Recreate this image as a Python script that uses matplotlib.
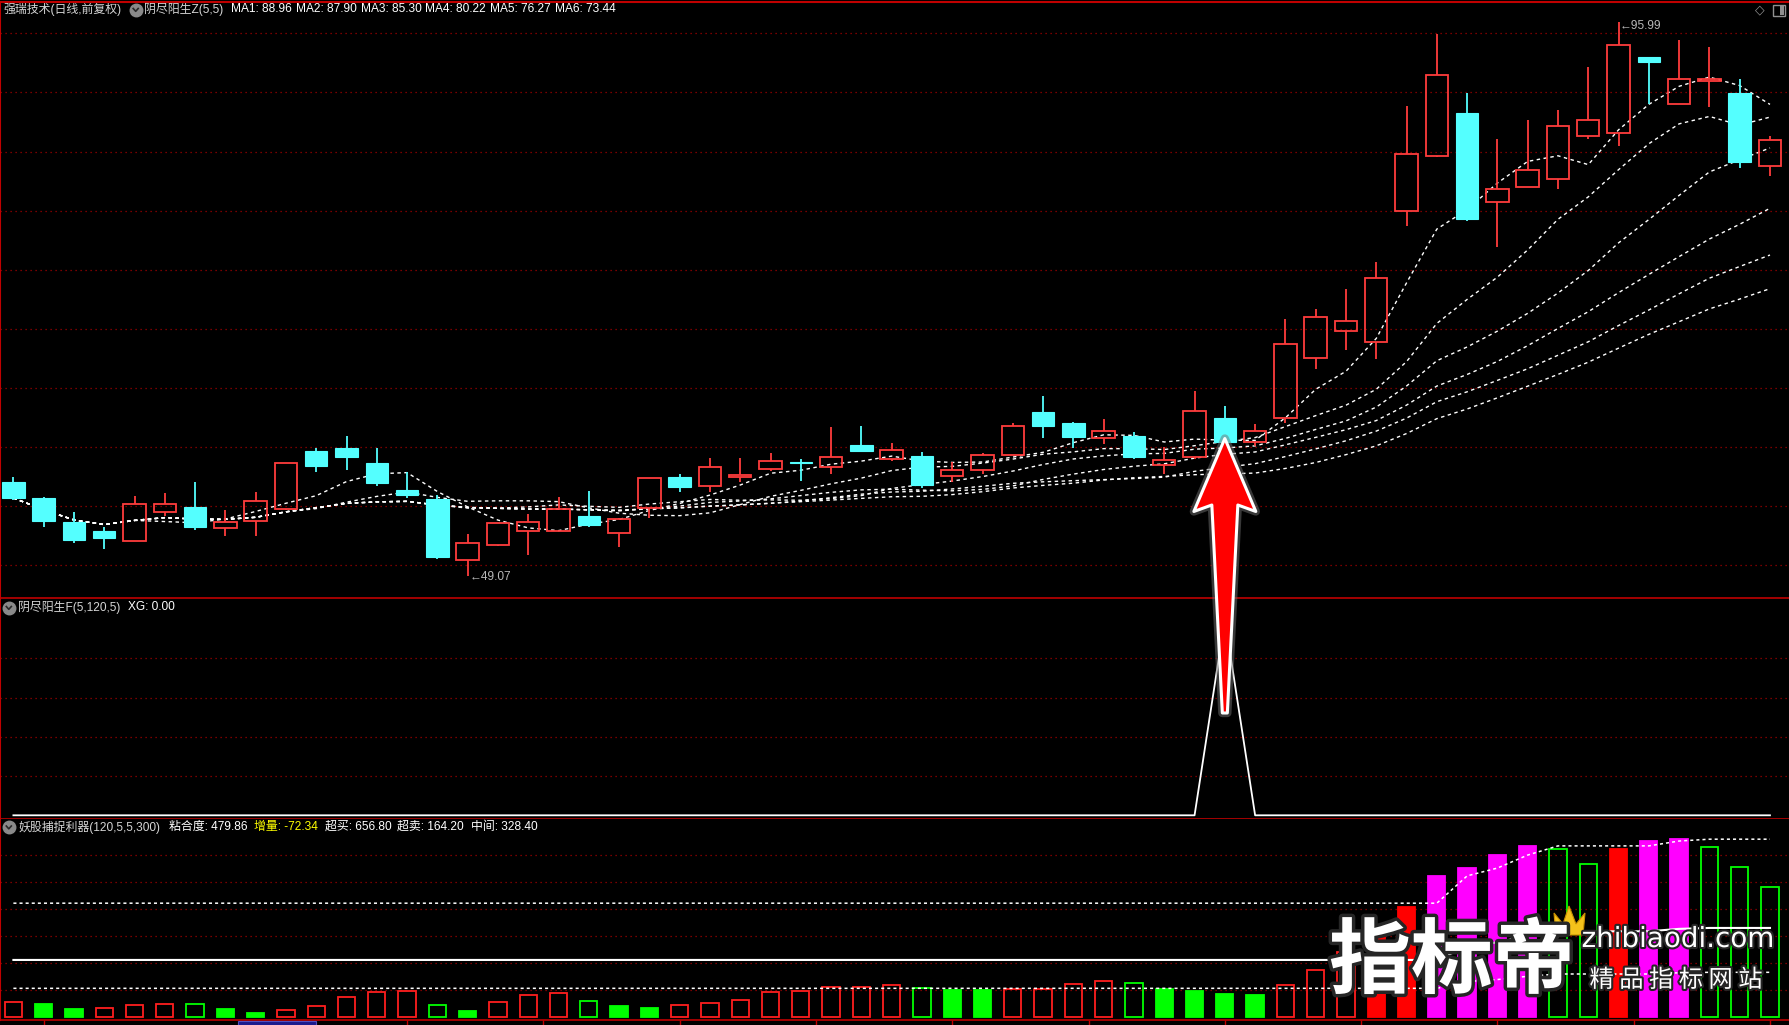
import numpy as np
import pandas as pd
import matplotlib
matplotlib.use("Agg")
import matplotlib.pyplot as plt
from matplotlib.patches import Polygon, Rectangle
from matplotlib.lines import Line2D
import matplotlib.patheffects as pe

W, H = 1789, 1025

# ---- daily candles ----
opens = [57.02, 55.66, 53.63, 52.86, 52.07, 54.50, 54.90, 53.15, 53.74, 54.76,
         59.65, 59.93, 58.63, 56.34, 55.64, 50.46, 51.73, 52.92, 52.92, 54.14,
         52.77, 54.84, 57.44, 56.74, 57.47, 58.15, 58.70, 58.35, 60.16, 59.03,
         59.23, 57.56, 58.07, 59.37, 62.96, 62.03, 60.78, 60.92, 58.52, 59.17,
         62.45, 60.44, 62.42, 67.51, 69.80, 68.92, 79.95, 84.65, 88.24, 80.72,
         81.99, 82.70, 86.35, 86.60, 92.99, 88.98, 90.93, 89.94, 83.80]
highs = [57.45, 55.75, 54.50, 53.20, 55.86, 56.09, 57.02, 54.65, 56.17, 58.69,
         59.88, 60.95, 59.93, 57.87, 55.98, 52.67, 53.60, 54.31, 55.75, 56.26,
         54.00, 57.42, 57.70, 59.06, 59.11, 59.48, 59.03, 61.69, 61.77, 60.33,
         59.57, 58.77, 59.48, 62.00, 64.32, 62.08, 62.37, 61.24, 59.99, 64.74,
         63.47, 61.97, 70.82, 71.70, 73.39, 75.68, 88.84, 94.97, 89.99, 86.04,
         87.65, 88.55, 92.12, 95.99, 92.99, 94.44, 93.84, 91.13, 86.29]
lows = [55.52, 53.20, 51.87, 51.42, 52.07, 54.17, 52.98, 52.47, 52.47, 54.70,
        57.90, 58.07, 56.74, 55.69, 50.52, 49.07, 51.59, 50.83, 52.92, 53.20,
        51.58, 53.99, 56.17, 56.20, 57.05, 57.95, 57.13, 57.73, 59.57, 58.80,
        56.54, 57.05, 57.70, 59.37, 60.75, 59.93, 60.27, 58.97, 57.73, 59.03,
        60.30, 60.07, 62.05, 66.63, 68.25, 67.48, 78.68, 84.54, 79.10, 76.90,
        81.99, 81.82, 86.07, 85.47, 88.98, 88.98, 88.78, 83.63, 82.92]
closes = [55.69, 53.71, 52.10, 52.27, 55.21, 55.21, 53.20, 53.68, 55.47, 58.69,
          58.41, 59.17, 56.97, 55.95, 50.69, 51.90, 53.60, 53.68, 54.79, 53.43,
          53.88, 57.42, 56.63, 58.35, 57.67, 58.86, 58.68, 59.20, 59.65, 59.79,
          56.77, 58.10, 59.37, 61.74, 61.80, 60.87, 61.40, 59.14, 58.94, 63.02,
          60.41, 61.32, 68.70, 70.99, 70.65, 74.30, 84.82, 91.44, 79.25, 81.85,
          83.46, 87.20, 87.70, 93.98, 92.60, 91.10, 91.10, 84.11, 86.01]
ma_periods = [5, 10, 15, 20, 25, 30]
ma_legend = [88.96, 87.90, 85.30, 80.22, 76.27, 73.44]

# ---- 阴尽阳生F signal ----
xg_signal = [0] * 40 + [1] + [0] * 18

# ---- 妖股捕捉利器 sticks ----
stick_values = [53, 47, 28, 31, 42, 46, 46, 28, 14, 24,
                38, 72, 90, 94, 42, 21, 53, 79, 87, 57,
                40, 32, 42, 50, 61, 90, 94, 109, 109, 116,
                105, 99, 97, 101, 103, 120, 131, 124, 102, 95,
                84, 80, 116, 173, 240, 330, 406, 521, 550, 598,
                632, 619, 564, 619, 650, 656.8, 627, 552.2, 479.86]
stick_kinds = ['rh', 'gf', 'gf', 'rh', 'rh', 'rh', 'gh', 'gf', 'gf', 'rh',
               'rh', 'rh', 'rh', 'rh', 'gh', 'gf', 'rh', 'rh', 'rh', 'gh',
               'gf', 'gf', 'rh', 'rh', 'rh', 'rh', 'rh', 'rh', 'rh', 'rh',
               'gh', 'gf', 'gf', 'rh', 'rh', 'rh', 'rh', 'gh', 'gf', 'gf',
               'gf', 'gf', 'rh', 'rh', 'rh', 'rf', 'rf', 'm', 'm', 'm',
               'm', 'gh', 'gh', 'rf', 'm', 'm', 'gh', 'gh', 'gh']
# 超买 level (flat from earlier history, then new highs)
overbought = [420.0] * 48 + [521, 550, 598, 632, 632, 632, 632, 650, 656.8, 656.8, 656.8]

RED = '#FF3C3C'
CYAN = '#54FFFF'
GRID = '#A00000'
EDGE = '#C00000'

plt.rcParams['font.family'] = ['Liberation Sans', 'Noto Sans CJK SC', 'DejaVu Sans']

n = len(closes)
x = np.arange(n)
o, h, l, c = map(np.array, (opens, highs, lows, closes))
mas = [pd.Series(closes).rolling(p, min_periods=1).mean().values for p in ma_periods]

fig = plt.figure(figsize=(W / 100, H / 100), dpi=100, facecolor='black')

x0, dx = 13.4, 30.286
xlim = (-x0 / dx, (W - x0) / dx)


def panel(top, bottom):
    a = fig.add_axes([0, 1 - bottom / H, 1, (bottom - top) / H], facecolor='black')
    a.set_xlim(*xlim)
    a.set_xticks([])
    a.set_yticks([])
    for s in a.spines.values():
        s.set_visible(False)
    a.spines['left'].set_visible(True)
    a.spines['left'].set_color(EDGE)
    a.spines['left'].set_linewidth(1.5)
    a.spines['bottom'].set_visible(True)
    a.spines['bottom'].set_color(EDGE)
    a.spines['bottom'].set_linewidth(1.2)
    return a


def ftext(px, py, s, **kw):
    kw.setdefault('fontsize', 8.6)
    kw.setdefault('va', 'center')
    kw.setdefault('ha', 'left')
    return fig.text(px / W, 1 - py / H, s, **kw)


def icon(px, py):
    fig.add_artist(Line2D([px / W], [1 - py / H], marker='o', markersize=9,
                          color='#8A8A8A', transform=fig.transFigure))
    fig.add_artist(Line2D([(px - 2.5) / W, px / W, (px + 2.5) / W],
                          [1 - (py - 1) / H, 1 - (py + 1.8) / H, 1 - (py - 1) / H],
                          color='#2A2A2A', lw=1.2, transform=fig.transFigure))


# ================= main price panel =================
ax1 = panel(2, 598)
ax1.spines['top'].set_visible(True)
ax1.spines['top'].set_color(EDGE)
ax1.spines['top'].set_linewidth(1.5)
px_per = 11.822
ax1.set_ylim(95 - (598 - 33.3) / px_per, 95 + (33.3 - 2) / px_per)
for g in range(50, 100, 5):
    ax1.axhline(g, color=GRID, lw=0.9, ls=(0, (1, 3)), zorder=1)

for ma in mas:
    ax1.plot(x, ma, color='white', lw=1.0, ls=(0, (2.5, 2.5)), zorder=2)

up = c >= o
bw = 0.74
body_lo = np.minimum(o, c)
body_hi = np.maximum(o, c)
body_h = np.maximum(body_hi - body_lo, 0.08)
ax1.bar(x[up], body_h[up], bottom=body_lo[up], width=bw, facecolor='none',
        edgecolor=RED, lw=1.3, zorder=3)
ax1.bar(x[~up], body_h[~up], bottom=body_lo[~up], width=bw, facecolor=CYAN,
        edgecolor=CYAN, lw=0.8, zorder=3)
cols = np.where(up, RED, CYAN)
ax1.vlines(x, body_hi, h, colors=cols, lw=1.3, zorder=3)
ax1.vlines(x, l, body_lo, colors=cols, lw=1.3, zorder=3)

i_hi = int(np.argmax(h))
i_lo = int(np.argmin(l))
ax1.text(i_hi + 0.05, h[i_hi] - 0.35, '\u2190%.2f' % h[i_hi], color='#B8B8B8',
         fontsize=8.6, va='center', ha='left', zorder=4)
ax1.text(i_lo + 0.05, l[i_lo] - 0.1, '\u2190%.2f' % l[i_lo], color='#B8B8B8',
         fontsize=8.6, va='center', ha='left', zorder=4)

# ================= 阴尽阳生F panel =================
ax2 = panel(599.3, 819.3)
ax2.set_ylim(-4 / 196.3, 216 / 196.3)
for g in (0.2, 0.4, 0.6, 0.8):
    ax2.axhline(g, color=GRID, lw=0.9, ls=(0, (1, 3)), zorder=1)
ax2.plot(x, xg_signal, color='white', lw=1.3, zorder=3)

# ================= 妖股捕捉利器 panel =================
ax3 = panel(819.3, 1020)
u = 3.70
ax3.set_ylim(-3.3 * u, (1016.7 - 819.3) * u)
for g in range(100, 700, 100):
    ax3.axhline(g, color=GRID, lw=0.9, ls=(0, (1, 3)), zorder=1)
kind_style = {
    'rh': dict(facecolor='none', edgecolor='#FF1E1E'),
    'rf': dict(facecolor='#FF0000', edgecolor='#FF0000'),
    'gh': dict(facecolor='none', edgecolor='#00FF00'),
    'gf': dict(facecolor='#00FF00', edgecolor='#00FF00'),
    'm': dict(facecolor='#FF00FF', edgecolor='#FF00FF'),
}
sv = np.array(stick_values, dtype=float)
kinds = np.array(stick_kinds)
for k, st in kind_style.items():
    m = kinds == k
    ax3.bar(x[m], sv[m], width=0.57, lw=1.3, zorder=2, **st)
ob = np.array(overbought)
ax3.plot(x, ob, color='white', lw=1.1, ls=(0, (2, 2)), zorder=4)
ax3.plot(x, ob / 2, color='white', lw=1.5, zorder=4)
ax3.plot(x, ob / 4, color='white', lw=1.1, ls=(0, (2, 2)), zorder=4)
ax3.set_xticks([1, 13, 17.5, 22, 26.5, 31, 35.5, 40, 44.5, 49, 53.5, 58])
ax3.set_xticklabels([])
ax3.tick_params(axis='x', colors=EDGE, length=4, width=1, direction='out')
fig.add_artist(Rectangle((238 / W, 0), 78 / W, 4 / H, facecolor='#1A1A8C',
                         edgecolor='#5050C0', lw=0.8, transform=fig.transFigure))

# ================= headers =================
ftext(3.6, 9.5, '强瑞技术(日线,前复权)', color='#D6D6D6')
icon(135.7, 9.5)
ftext(143.8, 9.5, '阴尽阳生Z(5,5)', color='#D6D6D6')
ma_x = [230.8, 295.5, 360.7, 425.4, 490.0, 555.0]
for k, (mx, mv) in enumerate(zip(ma_x, ma_legend)):
    ftext(mx, 9.5, 'MA%d: %.2f' % (k + 1, mv), color='white')
ftext(1760, 10, '\u25c7', color='#909090', fontsize=9, ha='center', family='DejaVu Sans')
fig.add_artist(Rectangle((1773 / W, 1 - 16 / H), 12 / W, 11 / H, facecolor='none',
                         edgecolor='#909090', lw=1.0, transform=fig.transFigure))
fig.add_artist(Rectangle((1780 / W, 1 - 15 / H), 4 / W, 9 / H, facecolor='#909090',
                         edgecolor='none', transform=fig.transFigure))

icon(8.8, 607.5)
ftext(18.3, 607.5, '阴尽阳生F(5,120,5)', color='#D6D6D6')
ftext(128.3, 607.5, 'XG: %.2f' % xg_signal[-1], color='white')

icon(8.8, 827)
ftext(18.7, 827, '妖股捕捉利器(120,5,5,300)', color='#D6D6D6')
ftext(168.7, 827, '粘合度: %.2f' % stick_values[-1], color='white')
ftext(254.5, 827, '增量: %.2f' % (stick_values[-1] - stick_values[-2]), color='#FFFF00')
ftext(324.6, 827, '超买: %.2f' % overbought[-1], color='white')
ftext(396.9, 827, '超卖: %.2f' % (overbought[-1] / 4), color='white')
ftext(471.0, 827, '中间: %.2f' % (overbought[-1] / 2), color='white')

# ================= signal arrow =================
fig.canvas.draw()
sig = int(np.argmax(xg_signal))
cx = ax1.transData.transform((sig, 0))[0]
tip_y = 438.5
arrow_rel = [(0, tip_y), (31, 511.5), (13, 505), (2.5, 713), (-2.5, 713),
             (-13, 505), (-31, 511.5)]
pts = [((cx + dxp) / W, 1 - yp / H) for dxp, yp in arrow_rel]
fig.add_artist(Polygon(pts, closed=True, facecolor='#FF0000', edgecolor='white',
                       lw=2.2, joinstyle='round', transform=fig.transFigure,
                       path_effects=[pe.Stroke(linewidth=6, foreground='#707070', alpha=0.5),
                                     pe.Normal()]))

# ================= watermark =================
ftext(1452, 963, '指标帝', color='white', fontsize=59, fontweight='bold', ha='center',
      family=['Noto Sans CJK SC'],
      path_effects=[pe.Stroke(linewidth=5, foreground='#262626'), pe.Normal()])
crown = [(1556, 935), (1554, 913), (1563, 924), (1569, 906), (1576, 924),
         (1585, 913), (1583, 935)]
fig.add_artist(Polygon([(a / W, 1 - b / H) for a, b in crown], closed=True,
                       facecolor='#F4C21B', edgecolor='#C89000', lw=0.8,
                       transform=fig.transFigure))
ftext(1678, 939, 'zhibiaodi.com', color='white', fontsize=20, ha='center',
      family=['DejaVu Sans'],
      path_effects=[pe.Stroke(linewidth=3, foreground='#262626'), pe.Normal()])
ftext(1676, 980, '精 品 指 标 网 站', color='white', fontsize=17.5, ha='center',
      family=['Noto Sans CJK SC'],
      path_effects=[pe.Stroke(linewidth=3, foreground='#262626'), pe.Normal()])

fig.savefig('out.png', dpi=100, facecolor='black')
